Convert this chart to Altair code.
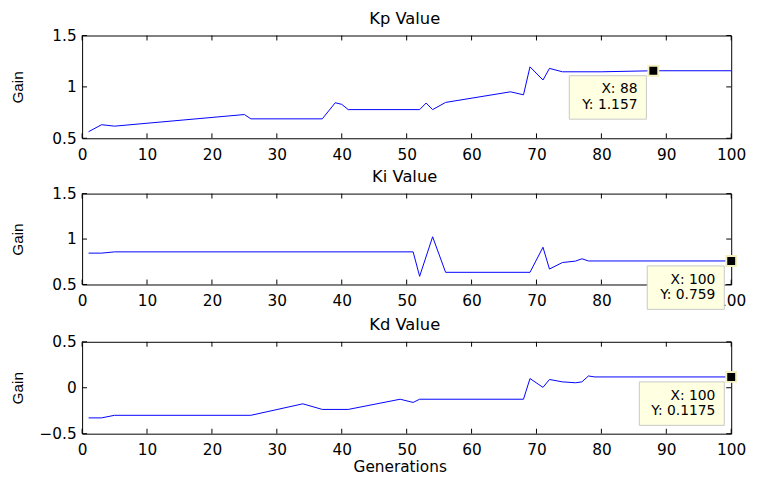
import altair as alt
import pandas as pd

# ---- data ----
gen_kp = [1, 3, 5, 25, 26, 37, 39, 40, 41, 52, 53, 54, 56, 66, 68, 69, 71, 72, 74, 80, 88, 100]
kp = [0.564, 0.632, 0.618, 0.731, 0.689, 0.689, 0.846, 0.830, 0.779, 0.779, 0.843, 0.779,
      0.849, 0.952, 0.923, 1.195, 1.067, 1.180, 1.147, 1.147, 1.157, 1.157]

gen_ki = [1, 3, 5, 51, 52, 54, 56, 69, 71, 72, 74, 76, 77, 78, 100]
ki = [0.845, 0.845, 0.859, 0.859, 0.590, 1.025, 0.634, 0.634, 0.910, 0.670, 0.742, 0.757,
      0.783, 0.759, 0.759]

gen_kd = [1, 3, 5, 26, 34, 37, 41, 49, 51, 52, 68, 69, 71, 72, 74, 76, 77, 78, 79, 100]
kd = [-0.328, -0.328, -0.300, -0.300, -0.175, -0.236, -0.236, -0.125, -0.160, -0.125,
      -0.125, 0.100, 0.004, 0.090, 0.064, 0.054, 0.064, 0.128, 0.1175, 0.1175]

titles = ["Kp Value", "Ki Value", "Kd Value"]
tip_x = [88, 100, 100]
tip_y = [1.157, 0.759, 0.1175]
tip_line1 = ["X: 88", "X: 100", "X: 100"]
tip_line2 = ["Y: 1.157", "Y: 0.759", "Y: 0.1175"]

x_ticks = [0, 10, 20, 30, 40, 50, 60, 70, 80, 90, 100]
y_ticks_kp = [0.5, 1.0, 1.5]
y_ticks_ki = [0.5, 1.0, 1.5]
y_ticks_kd = [-0.5, 0.0, 0.5]

W = 657
LABEL_FONT = "DejaVu Sans"


def panel(title, gens, vals, yticks, tx, ty, l1, l2, height, box_w, xtitle):
    df = pd.DataFrame({"Generation": gens, "Gain": vals})
    xaxis_kw = dict(values=x_ticks, ticks=False, domain=False, grid=False,
                    labelPadding=9, labelFont=LABEL_FONT, labelFontSize=15.5,
                    labelColor="black", labelFlush=False)
    if xtitle:
        xaxis = alt.Axis(title=xtitle, titleFont=LABEL_FONT, titleFontSize=15.5,
                         titleFontWeight="normal", titleColor="black",
                         titleX=W / 2 - 7, titleY=38, titleAlign="center",
                         titleBaseline="alphabetic", **xaxis_kw)
    else:
        xaxis = alt.Axis(title=None, **xaxis_kw)
    yaxis = alt.Axis(values=yticks, ticks=False, domain=False, grid=False,
                     labelPadding=6, labelFont=LABEL_FONT, labelFontSize=15.5,
                     labelColor="black", format="~g",
                     title="Gain", titleFont="Liberation Sans", titleFontSize=15.5,
                     titleFontWeight="normal", titleColor="black",
                     titleX=-65, titleY=height / 2, titleAlign="center",
                     titleBaseline="middle", titleAngle=270)
    x_enc = alt.X("Generation:Q", scale=alt.Scale(domain=[0, 100], nice=False, zero=False),
                  axis=xaxis)
    y_enc = alt.Y("Gain:Q", scale=alt.Scale(domain=[yticks[0], yticks[-1]], nice=False,
                                            zero=False), axis=yaxis)

    line = alt.Chart(df).mark_line(color="#0000ff", strokeWidth=1).encode(x=x_enc, y=y_enc)

    xt = pd.DataFrame({"Generation": x_ticks})
    yt = pd.DataFrame({"Gain": yticks})
    tick_style = dict(color="black", strokeWidth=1)
    xt_top = alt.Chart(xt).mark_rule(**tick_style).encode(
        x=x_enc, y=alt.value(0), y2=alt.value(5))
    xt_bot = alt.Chart(xt).mark_rule(**tick_style).encode(
        x=x_enc, y=alt.value(height), y2=alt.value(height - 5))
    yt_left = alt.Chart(yt).mark_rule(**tick_style).encode(
        y=y_enc, x=alt.value(0), x2=alt.value(5))
    yt_right = alt.Chart(yt).mark_rule(**tick_style).encode(
        y=y_enc, x=alt.value(W), x2=alt.value(W - 5))

    tip = pd.DataFrame({"Generation": [tx], "Gain": [ty], "l1": [l1], "l2": [l2]})
    box = alt.Chart(tip).mark_rect(fill="#ffffe1", stroke="#c8c8c8", strokeWidth=1,
                                   xOffset=-(7 + box_w), x2Offset=-7,
                                   yOffset=5, y2Offset=49).encode(
        x=x_enc, x2=alt.X2("Generation:Q"), y=y_enc, y2=alt.Y2("Gain:Q"))
    t1 = alt.Chart(tip).mark_text(align="right", baseline="middle", dx=-16, dy=19,
                                  font=LABEL_FONT, fontSize=14, color="black").encode(
        x=x_enc, y=y_enc, text="l1:N")
    t2 = alt.Chart(tip).mark_text(align="right", baseline="middle", dx=-16, dy=35,
                                  font=LABEL_FONT, fontSize=14, color="black").encode(
        x=x_enc, y=y_enc, text="l2:N")
    marker = alt.Chart(tip).mark_point(shape="square", filled=True, size=100,
                                       fill="black", stroke="#f3efc0", strokeWidth=2,
                                       opacity=1).encode(x=x_enc, y=y_enc)

    return alt.layer(line, xt_top, xt_bot, yt_left, yt_right, box, t1, t2, marker).properties(
        width=W, height=height,
        title=alt.TitleParams(text=title, font=LABEL_FONT, fontSize=16.5,
                              fontWeight="normal", color="black", anchor="middle",
                              offset=1, dx=-2))


p1 = panel(titles[0], gen_kp, kp, y_ticks_kp, tip_x[0], tip_y[0], tip_line1[0], tip_line2[0],
           104, 78, None)
p2 = panel(titles[1], gen_ki, ki, y_ticks_ki, tip_x[1], tip_y[1], tip_line1[1], tip_line2[1],
           92, 78, None)
p3 = panel(titles[2], gen_kd, kd, y_ticks_kd, tip_x[2], tip_y[2], tip_line1[2], tip_line2[2],
           93, 86, "Generations")

chart = alt.vconcat(p1, p2, p3, spacing=6).properties(
    padding={"left": 2, "top": 0, "right": 2, "bottom": 0},
    background="white"
).configure_view(stroke="black", strokeWidth=1)

chart.save("out.html", embed_options={"renderer": "svg", "actions": False})
